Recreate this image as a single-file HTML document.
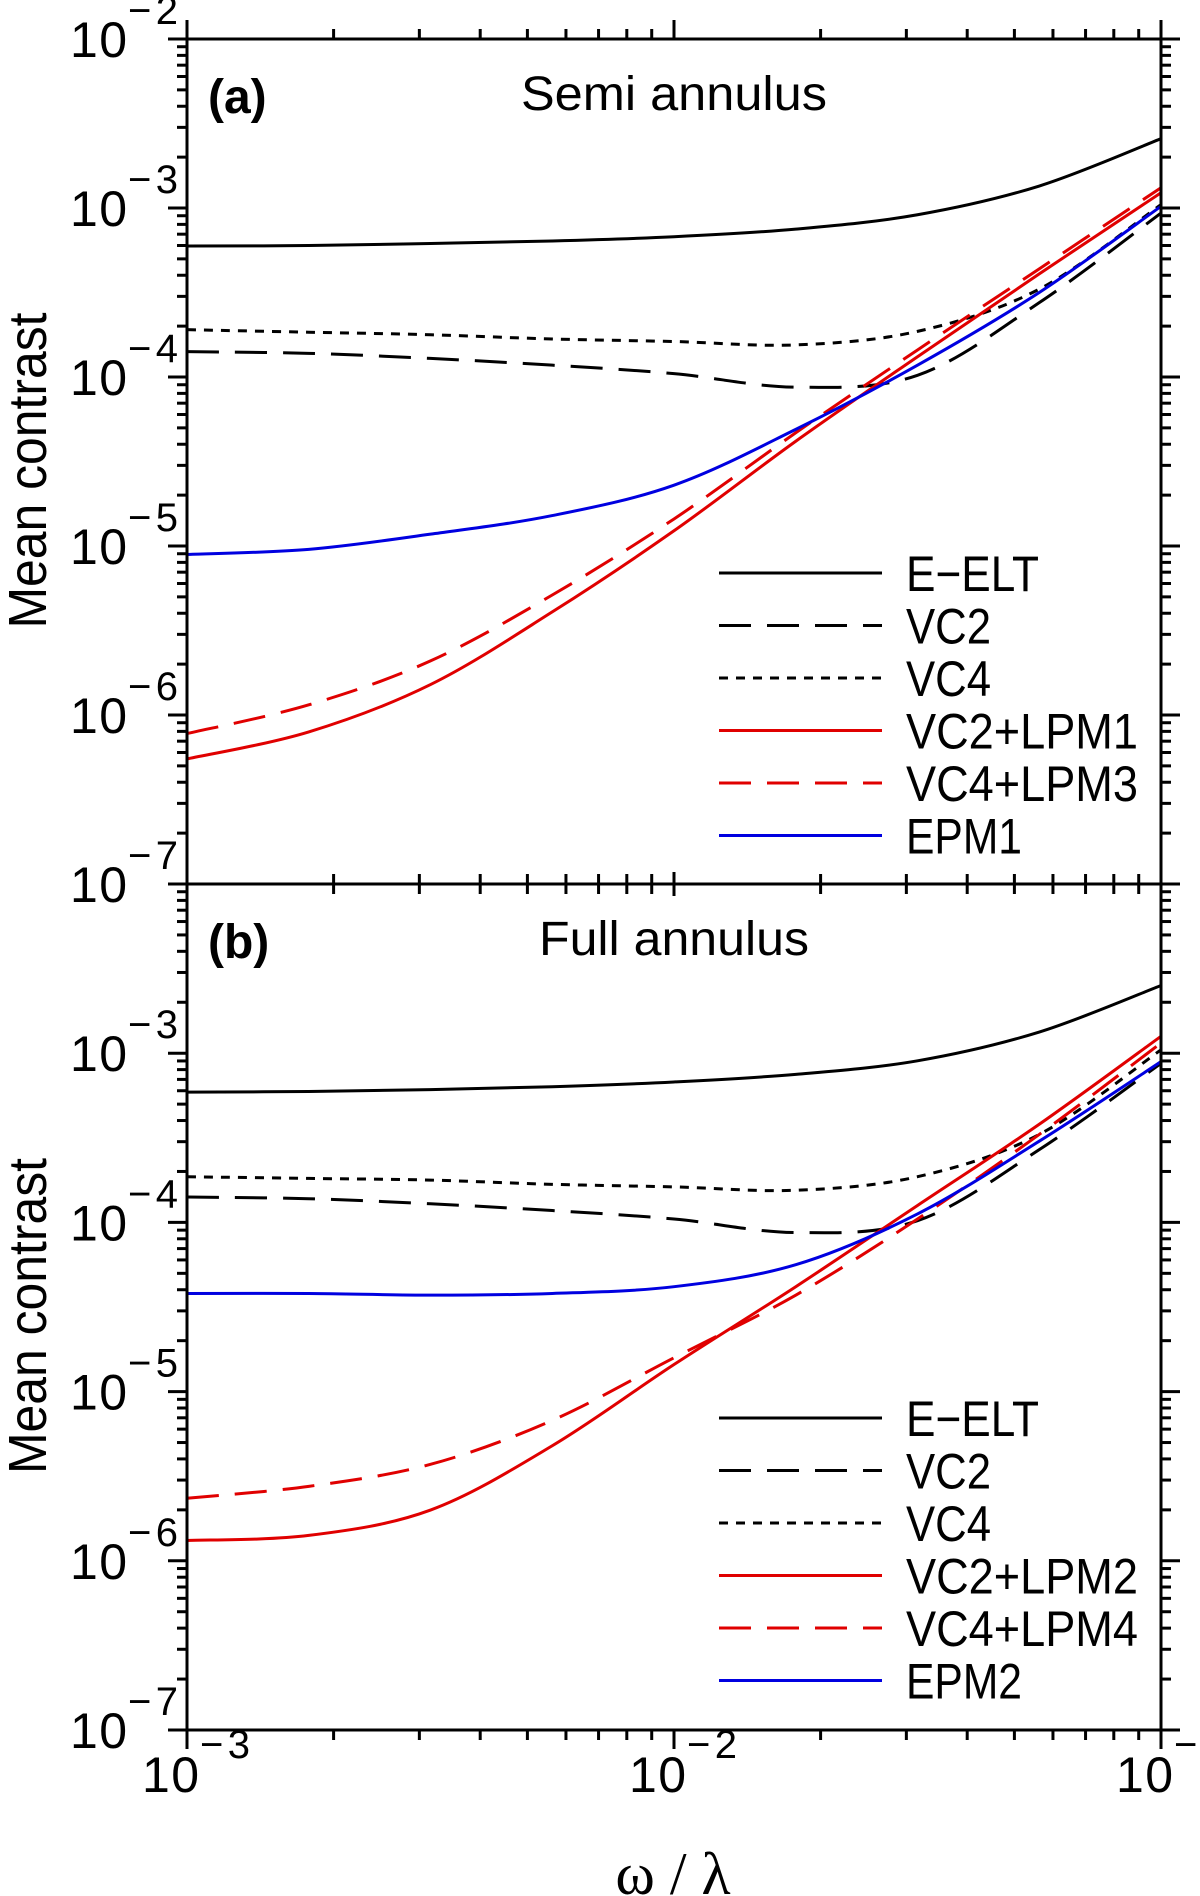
<!DOCTYPE html>
<html><head><meta charset="utf-8">
<style>
html,body{margin:0;padding:0;background:#fff;}
svg{display:block;font-family:"Liberation Sans",sans-serif;}
</style></head>
<body>
<svg id="chart" width="1200" height="1896" viewBox="0 0 1200 1896" xmlns="http://www.w3.org/2000/svg">
<g id="plots"></g>
</svg>
<script>
// x positions as log10(omega/lambda)
const xLog = [-3, -2.75, -2.5, -2.25, -2, -1.75, -1.5, -1.25, -1];
// series values as log10(mean contrast), panel a
const aEELT = [-3.225, -3.222, -3.21, -3.195, -3.17, -3.125, -3.04, -2.87, -2.59];
const aVC2  = [-3.85, -3.86, -3.89, -3.93, -3.98, -4.06, -3.99, -3.56, -3.03];
const aVC4  = [-3.72, -3.735, -3.75, -3.775, -3.79, -3.81, -3.73, -3.48, -2.98];
const aVC2LPM1 = [-6.26, -6.10, -5.82, -5.39, -4.91, -4.38, -3.88, -3.39, -2.91];
const aVC4LPM3 = [-6.11, -5.94, -5.68, -5.29, -4.84, -4.33, -3.84, -3.36, -2.88];
const aEPM1 = [-5.05, -5.02, -4.93, -4.82, -4.64, -4.31, -3.93, -3.50, -2.99];
// panel b
const bEELT = [-3.23, -3.226, -3.215, -3.198, -3.17, -3.125, -3.045, -2.875, -2.60];
const bVC2  = [-3.85, -3.86, -3.89, -3.93, -3.98, -4.06, -3.99, -3.57, -3.06];
const bVC4  = [-3.73, -3.74, -3.75, -3.775, -3.79, -3.81, -3.73, -3.48, -2.98];
const bVC2LPM2 = [-5.88, -5.85, -5.70, -5.32, -4.84, -4.38, -3.90, -3.42, -2.90];
const bVC4LPM4 = [-5.63, -5.56, -5.43, -5.17, -4.80, -4.43, -3.98, -3.48, -2.94];
const bEPM2 = [-4.42, -4.42, -4.43, -4.42, -4.38, -4.25, -3.95, -3.52, -3.05];
const yTicksA = [-2, -3, -4, -5, -6, -7];
const yTicksB = [-3, -4, -5, -6, -7];
const xTicks = [-3, -2, -1];

const NS = "http://www.w3.org/2000/svg";
const X0 = 187, X1 = 1161;
const legendLen = {"E−ELT": 133, "VC2": 85, "VC4": 85, "VC2+LPM1": 232, "VC4+LPM3": 232, "VC2+LPM2": 232, "VC4+LPM4": 232, "EPM1": 116, "EPM2": 116};
const panels = [
  {top: 39, bottom: 884, title: "Semi annulus", titleLen: 306, tag: "(a)", id: "a", yTicks: yTicksA,
   series: [["E−ELT", aEELT, "#000", null], ["VC2", aVC2, "#000", "32 16"], ["VC4", aVC4, "#000", "9 8"],
            ["VC2+LPM1", aVC2LPM1, "#e00000", null], ["VC4+LPM3", aVC4LPM3, "#e00000", "32 16"], ["EPM1", aEPM1, "#0000e0", null]]},
  {top: 884, bottom: 1730, title: "Full annulus", titleLen: 270, tag: "(b)", id: "b", yTicks: yTicksB,
   series: [["E−ELT", bEELT, "#000", null], ["VC2", bVC2, "#000", "32 16"], ["VC4", bVC4, "#000", "9 8"],
            ["VC2+LPM2", bVC2LPM2, "#e00000", null], ["VC4+LPM4", bVC4LPM4, "#e00000", "32 16"], ["EPM2", bEPM2, "#0000e0", null]]}
];
const xs = v => X0 + (v + 3) / 2 * (X1 - X0);
const root = document.getElementById("plots");
function mk(tag, attrs, parent) {
  const e = document.createElementNS(NS, tag);
  for (const k in attrs) e.setAttribute(k, attrs[k]);
  (parent || root).appendChild(e);
  return e;
}
function line(x1, y1, x2, y2, g) {
  return mk("line", {x1, y1, x2, y2, stroke: "#000", "stroke-width": 3}, g);
}
function smoothPath(pts) {
  let d = "M" + pts[0][0] + "," + pts[0][1];
  for (let i = 0; i < pts.length - 1; i++) {
    const p0 = pts[Math.max(0, i - 1)], p1 = pts[i], p2 = pts[i + 1], p3 = pts[Math.min(pts.length - 1, i + 2)];
    const c1x = p1[0] + (p2[0] - p0[0]) / 6, c1y = p1[1] + (p2[1] - p0[1]) / 6;
    const c2x = p2[0] - (p3[0] - p1[0]) / 6, c2y = p2[1] - (p3[1] - p1[1]) / 6;
    d += " C" + c1x + "," + c1y + " " + c2x + "," + c2y + " " + p2[0] + "," + p2[1];
  }
  return d;
}
panels.forEach((P, pi) => {
  const ys = v => P.top + (-2 - v) / 5 * (P.bottom - P.top);
  const g = mk("g", {});
  
  
  const sg = mk("g", {}, g);
  
  
  P.series.forEach(s => {
    const pts = xLog.map((x, i) => [xs(x), ys(s[1][i])]);
    const p = mk("path", {d: smoothPath(pts), fill: "none", stroke: s[2], "stroke-width": 3}, sg);
    if (s[3]) p.setAttribute("stroke-dasharray", s[3]);
    
    
  });
  const fr = mk("rect", {x: X0, y: P.top, width: X1 - X0, height: P.bottom - P.top, fill: "none", stroke: "#000", "stroke-width": 3}, g);
  
  
  const tg = mk("g", {}, g);
  
  
  for (let d = -7; d < -2; d++) {
    for (let m = 1; m <= 9; m++) {
      const y = ys(d + Math.log10(m));
      const L = m === 1 ? 19 : 10;
      line(X0 - L, y, X0, y, tg);
      line(X1, y, X1 + L, y, tg);
    }
  }
  line(X0 - 19, ys(-2), X0, ys(-2), tg);
  line(X1, ys(-2), X1 + 19, ys(-2), tg);
  P.yTicks.forEach(t => {
    const y = ys(t);
    const tx = mk("text", {x: 127, y: y + 18, "font-size": 50, "text-anchor": "end", textLength: 57}, tg);
    tx.textContent = "10";
    
    
    const sp = mk("text", {x: 128, y: y - 15, "font-size": 40, textLength: 50}, tg);
    sp.textContent = "−" + (-t);
    
    
  });
  const xg = mk("g", {}, g);
  
  
  for (let d = -3; d < -1; d++) {
    for (let m = 1; m <= 10; m++) {
      const x = xs(d + Math.log10(m));
      const major = (m === 1 || m === 10);
      const L = major ? 19 : 10;
      if (pi === 0) { line(x, P.top - L, x, P.top, xg); line(x, P.bottom, x, P.bottom + (major ? 12 : 10), xg); }
      else { line(x, P.top - (major ? 12 : 10), x, P.top, xg); line(x, P.bottom, x, P.bottom + L, xg); }
    }
  }
  const tag = mk("text", {x: 208, y: 113 + (P.top - 39), "font-size": 48, "font-weight": "bold"}, g);
  tag.textContent = P.tag;
  
  
  const ti = mk("text", {x: 674, y: 110 + (P.top - 39), "font-size": 48, "text-anchor": "middle", textLength: P.titleLen, lengthAdjust: "spacingAndGlyphs"}, g);
  ti.textContent = P.title;
  
  
  const yc = (P.top + P.bottom) / 2 + 9;
  const yt = mk("text", {x: 0, y: 0, "font-size": 54, "text-anchor": "middle", textLength: 316, lengthAdjust: "spacingAndGlyphs",
    transform: "translate(46," + yc + ") rotate(-90)"}, g);
  yt.textContent = "Mean contrast";
  
  
  const lg = mk("g", {}, g);
  
  
  const ly0 = P.top + 534;
  P.series.forEach((s, i) => {
    const y = ly0 + i * 52.5;
    const eg = mk("g", {}, lg);
    
    
    const l = mk("line", {x1: 719, y1: y, x2: 882, y2: y, stroke: s[2], "stroke-width": 3}, eg);
    if (s[3]) l.setAttribute("stroke-dasharray", s[3]);
    const t = mk("text", {x: 906, y: y + 18, "font-size": 50, textLength: legendLen[s[0]], lengthAdjust: "spacingAndGlyphs"}, eg);
    t.textContent = s[0];
  });
});
const xl = mk("g", {});


xTicks.forEach(t => {
  const x = xs(t);
  const a = mk("text", {x: x + 12, y: 1792, "font-size": 50, "text-anchor": "end", textLength: 57}, xl);
  a.textContent = "10";
  
  
  const b = mk("text", {x: x + 13, y: 1758, "font-size": 40, textLength: 50}, xl);
  b.textContent = "−" + (-t);
  
  
});
const xt = mk("text", {x: 673, y: 1894, "font-size": 60, "text-anchor": "middle", "font-family": "Liberation Serif, serif"});
xt.textContent = "ω / λ";


</script>
</body></html>
